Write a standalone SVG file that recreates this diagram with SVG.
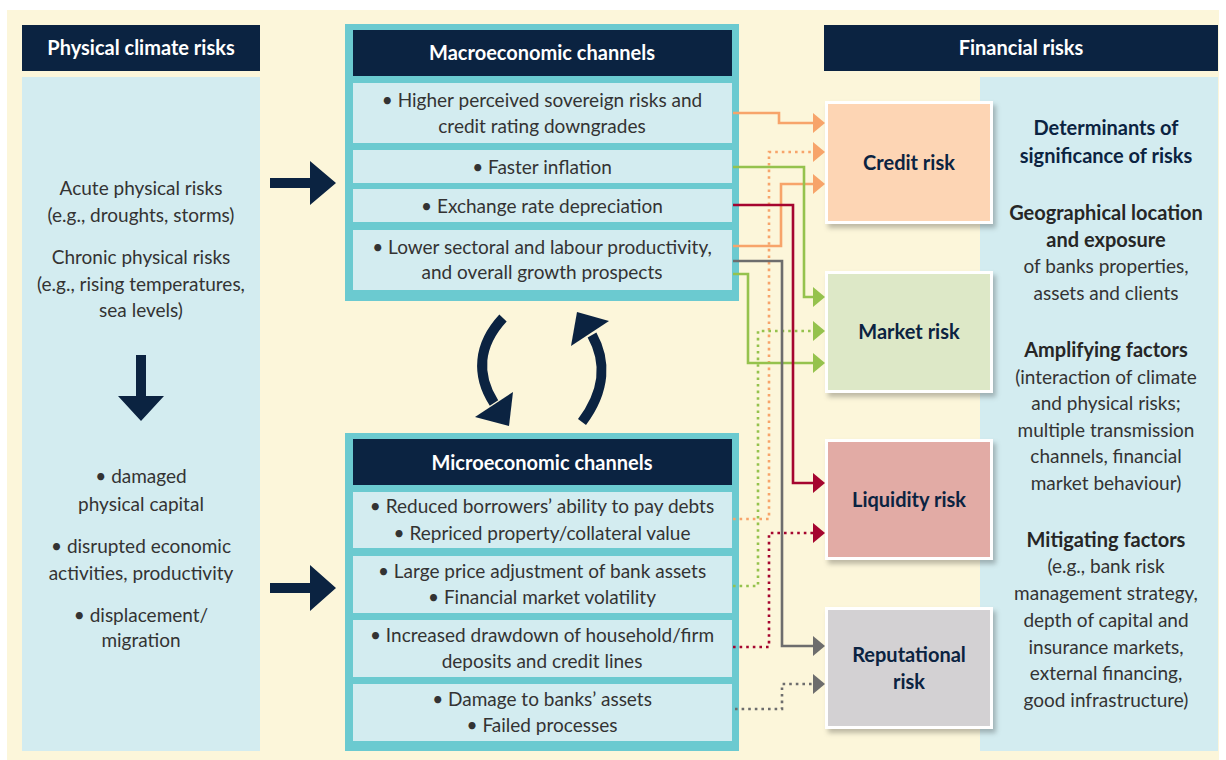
<svg xmlns="http://www.w3.org/2000/svg" width="1226" height="760" viewBox="0 0 1226 760">
<style>
.t{font-family:Lato,"Liberation Sans",sans-serif;font-size:19px;fill:#333;text-anchor:middle}
.b{font-family:Lato,"Liberation Sans",sans-serif;font-size:20px;font-weight:bold;text-anchor:middle}
.hw{fill:#fff}
.nv{fill:#0b2341}
.dk{fill:#262626}
.navy{fill:#0b2341}
.panel{fill:#d3ecf0}
.teal{fill:#6bcad0}
.row{fill:#d3ecf0}
.risk{stroke:#fff;stroke-width:3}
.c{fill:none;stroke-width:2.6}
.dot{stroke-dasharray:2.6 4}
.or{stroke:#f7a46a}.gr{stroke:#95c24d}.rd{stroke:#a5052f}.gy{stroke:#6d6d6d}
.big{fill:none;stroke:#0b2341;stroke-width:10}
</style>
<defs>
<filter id="sh" x="-10%" y="-10%" width="130%" height="130%"><feDropShadow dx="3" dy="4" stdDeviation="2.5" flood-color="#000" flood-opacity="0.25"/></filter>
<marker id="aor" markerUnits="userSpaceOnUse" markerWidth="12" markerHeight="20" viewBox="0 0 12 20" refX="0" refY="10" orient="auto"><path d="M0,0 L12,10 L0,20 z" fill="#f7a46a"/></marker>
<marker id="agr" markerUnits="userSpaceOnUse" markerWidth="12" markerHeight="20" viewBox="0 0 12 20" refX="0" refY="10" orient="auto"><path d="M0,0 L12,10 L0,20 z" fill="#95c24d"/></marker>
<marker id="ard" markerUnits="userSpaceOnUse" markerWidth="12" markerHeight="20" viewBox="0 0 12 20" refX="0" refY="10" orient="auto"><path d="M0,0 L12,10 L0,20 z" fill="#a5052f"/></marker>
<marker id="agy" markerUnits="userSpaceOnUse" markerWidth="12" markerHeight="20" viewBox="0 0 12 20" refX="0" refY="10" orient="auto"><path d="M0,0 L12,10 L0,20 z" fill="#6d6d6d"/></marker>
</defs>
<rect x="7" y="10" width="1212" height="750" fill="#fcf6da"/>

<g id="physical">
<rect class="navy" x="22" y="25" width="238" height="46"/>
<text class="b hw" x="141" y="55">Physical climate risks</text>
<rect class="panel" x="22" y="77" width="238" height="674"/>
<text class="t" x="141" y="195">Acute physical risks</text>
<text class="t" x="141" y="222">(e.g., droughts, storms)</text>
<text class="t" x="141" y="264">Chronic physical risks</text>
<text class="t" x="141" y="291">(e.g., rising temperatures,</text>
<text class="t" x="141" y="317">sea levels)</text>
<path class="navy" d="M136,355 H146 V396 H164 L141,421 L118,396 H136 Z"/>
<text class="t" x="141" y="483">• damaged</text>
<text class="t" x="141" y="511">physical capital</text>
<text class="t" x="141" y="553">• disrupted economic</text>
<text class="t" x="141" y="580">activities, productivity</text>
<text class="t" x="141" y="622">• displacement/</text>
<text class="t" x="141" y="647">migration</text>
</g>

<g id="arrows-main">
<path class="navy" d="M270,178 H310 V161 L336,183 L310,205 V188 H270 Z"/>
<path class="navy" d="M270,583 H310 V565 L336,588 L310,611 V593 H270 Z"/>
<path class="big" d="M503,318 C478,345 476,375 494,403"/>
<path class="navy" d="M475,417 L513,392 L509,426 Z"/>
<path class="big" d="M582,422 C606,390 606,360 592,335"/>
<path class="navy" d="M571,346 L609,321 L577,312 Z"/>
</g>

<g id="macro">
<rect class="teal" x="345" y="24" width="394" height="277"/>
<rect class="navy" x="353" y="30" width="379" height="46"/>
<text class="b hw" x="542" y="60">Macroeconomic channels</text>
<rect class="row" x="353" y="83" width="379" height="60"/>
<text class="t" x="542" y="107">• Higher perceived sovereign risks and</text>
<text class="t" x="542" y="133">credit rating downgrades</text>
<rect class="row" x="353" y="150" width="379" height="33"/>
<text class="t" x="542" y="174">• Faster inflation</text>
<rect class="row" x="353" y="189" width="379" height="33"/>
<text class="t" x="542" y="213">• Exchange rate depreciation</text>
<rect class="row" x="353" y="230" width="379" height="60"/>
<text class="t" x="542" y="254">• Lower sectoral and labour productivity,</text>
<text class="t" x="542" y="279">and overall growth prospects</text>
</g>

<g id="micro">
<rect class="teal" x="345" y="433" width="394" height="318"/>
<rect class="navy" x="353" y="439" width="379" height="46"/>
<text class="b hw" x="542" y="470">Microeconomic channels</text>
<rect class="row" x="353" y="492" width="379" height="56"/>
<text class="t" x="542" y="513">• Reduced borrowers’ ability to pay debts</text>
<text class="t" x="542" y="540">• Repriced property/collateral value</text>
<rect class="row" x="353" y="556" width="379" height="57"/>
<text class="t" x="542" y="578">• Large price adjustment of bank assets</text>
<text class="t" x="542" y="604">• Financial market volatility</text>
<rect class="row" x="353" y="620" width="379" height="57"/>
<text class="t" x="542" y="642">• Increased drawdown of household/firm</text>
<text class="t" x="542" y="668">deposits and credit lines</text>
<rect class="row" x="353" y="684" width="379" height="57"/>
<text class="t" x="542" y="706">• Damage to banks’ assets</text>
<text class="t" x="542" y="732">• Failed processes</text>
</g>

<g id="financial">
<rect class="navy" x="824" y="25" width="394" height="46"/>
<text class="b hw" x="1021" y="55">Financial risks</text>
<rect class="panel" x="980" y="77" width="238" height="674"/>
<text class="b nv" x="1106" y="135">Determinants of</text>
<text class="b nv" x="1106" y="163">significance of risks</text>
<text class="b dk" x="1106" y="220">Geographical location</text>
<text class="b dk" x="1106" y="247">and exposure</text>
<text class="t" x="1106" y="273">of banks properties,</text>
<text class="t" x="1106" y="300">assets and clients</text>
<text class="b dk" x="1106" y="357">Amplifying factors</text>
<text class="t" x="1106" y="384">(interaction of climate</text>
<text class="t" x="1106" y="410">and physical risks;</text>
<text class="t" x="1106" y="437">multiple transmission</text>
<text class="t" x="1106" y="463">channels, financial</text>
<text class="t" x="1106" y="490">market behaviour)</text>
<text class="b dk" x="1106" y="547">Mitigating factors</text>
<text class="t" x="1106" y="573">(e.g., bank risk</text>
<text class="t" x="1106" y="600">management strategy,</text>
<text class="t" x="1106" y="627">depth of capital and</text>
<text class="t" x="1106" y="654">insurance markets,</text>
<text class="t" x="1106" y="680">external financing,</text>
<text class="t" x="1106" y="707">good infrastructure)</text>
</g>

<g id="credit-risk">
<rect class="risk" x="826.5" y="102.5" width="165" height="120" fill="#fdd5b4" filter="url(#sh)"/>
<text class="b nv" x="909" y="170">Credit risk</text>
</g>
<g id="market-risk">
<rect class="risk" x="826.5" y="272.5" width="165" height="119" fill="#dde8c7" filter="url(#sh)"/>
<text class="b nv" x="909" y="339">Market risk</text>
</g>
<g id="liquidity-risk">
<rect class="risk" x="826.5" y="440.5" width="165" height="118" fill="#e2aba5" filter="url(#sh)"/>
<text class="b nv" x="909" y="507">Liquidity risk</text>
</g>
<g id="reputational-risk">
<rect class="risk" x="826.5" y="608.5" width="165" height="119" fill="#d3d1d3" filter="url(#sh)"/>
<text class="b nv" x="909" y="662">Reputational</text>
<text class="b nv" x="909" y="689">risk</text>
</g>

<g id="connectors">
<path class="c or dot" d="M733,519 H769 V152 H813" marker-end="url(#aor)"/>
<path class="c gr dot" d="M733,586 H758 V331 H813" marker-end="url(#agr)"/>
<path class="c rd dot" d="M733,647 H769 V533 H813" marker-end="url(#ard)"/>
<path class="c gy dot" d="M735,709 H782 V684 H813" marker-end="url(#agy)"/>
<path class="c or" d="M733,113 H779 V123 H813" marker-end="url(#aor)"/>
<path class="c or" d="M733,246 H781 V184 H813" marker-end="url(#aor)"/>
<path class="c gr" d="M733,167 H804 V297 H813" marker-end="url(#agr)"/>
<path class="c gr" d="M733,274 H748 V363 H813" marker-end="url(#agr)"/>
<path class="c gy" d="M733,261 H782 V646 H813" marker-end="url(#agy)"/>
<path class="c rd" d="M733,205 H793 V483 H813" marker-end="url(#ard)"/>
</g>
</svg>
